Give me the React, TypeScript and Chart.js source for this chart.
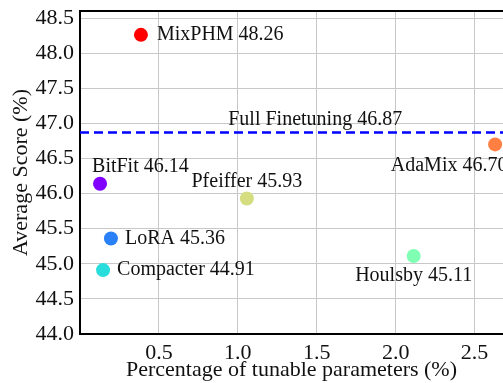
import React, { useEffect, useRef } from "react";
import { Chart, registerables } from "chart.js";

Chart.register(...registerables);

const methods = ["BitFit", "LoRA", "Compacter", "Houlsby", "Pfeiffer", "AdaMix", "MixPHM"];
const tunableParams = [0.127, 0.196, 0.146, 2.114, 1.057, 2.63, 0.386];
const avgScores = [46.14, 45.36, 44.91, 45.11, 45.93, 46.70, 48.26];
const pointColors = ["#8000ff", "#2a80f6", "#2adddd", "#80ffb4", "#d4dd80", "#ff8042", "#ff0000"];
const fullFinetuningLabel = "Full Finetuning";
const fullFinetuningScore = 46.87;

// label placement: [dx, dy, align]
const labelOffsets: [number, number, CanvasTextAlign][] = [
  [-8, -17, "left"],
  [14, 0, "left"],
  [14, 0, "left"],
  [0, 20, "center"],
  [0, -17, "center"],
  [-46, 21, "center"],
  [16, 0, "left"],
];

const FONT = "'Liberation Serif', 'Times New Roman', serif";

const annotPlugin = {
  id: "annot",
  afterDatasetsDraw(chart: any) {
    const { ctx, chartArea, scales } = chart;
    const xs = scales.x;
    const ys = scales.y;
    ctx.save();
    // top border
    ctx.strokeStyle = "#000";
    ctx.lineWidth = 2;
    ctx.beginPath();
    ctx.moveTo(chartArea.left - 1, chartArea.top);
    ctx.lineTo(chartArea.right + 2, chartArea.top);
    ctx.stroke();
    // dashed line
    const yl = ys.getPixelForValue(fullFinetuningScore);
    ctx.strokeStyle = "#0000ff";
    ctx.lineWidth = 2.5;
    ctx.setLineDash([9, 5]);
    ctx.beginPath();
    ctx.moveTo(chartArea.left, yl);
    ctx.lineTo(chartArea.right, yl);
    ctx.stroke();
    ctx.setLineDash([]);
    ctx.fillStyle = "#111";
    ctx.font = `20px ${FONT}`;
    ctx.textBaseline = "middle";
    ctx.textAlign = "center";
    ctx.fillText(`${fullFinetuningLabel} ${fullFinetuningScore.toFixed(2)}`, xs.getPixelForValue(1.49), yl - 13);
    // point labels
    methods.forEach((m, i) => {
      const px = xs.getPixelForValue(tunableParams[i]);
      const py = ys.getPixelForValue(avgScores[i]);
      const [dx, dy, al] = labelOffsets[i];
      ctx.textAlign = al;
      ctx.fillText(`${m} ${avgScores[i].toFixed(2)}`, px + dx, py + dy);
    });
    ctx.restore();
  },
};

export default function App() {
  const ref = useRef<HTMLCanvasElement>(null);
  useEffect(() => {
    document.body.style.margin = "0";
    const chart = new Chart(ref.current!, {
      type: "scatter",
      data: {
        datasets: [
          {
            data: tunableParams.map((x, i) => ({ x, y: avgScores[i] })),
            backgroundColor: pointColors,
            borderColor: pointColors,
            borderWidth: 0,
            pointRadius: 7,
          },
        ],
      },
      options: {
        animation: false,
        responsive: false,
        layout: { autoPadding: false, padding: { top: 11, right: 0, left: 0, bottom: 0 } },
        plugins: { legend: { display: false }, tooltip: { enabled: false } },
        scales: {
          x: {
            type: "linear",
            min: 0,
            max: 2.68,
            afterFit: (s: any) => { s.height = 49; s.paddingLeft = 0; s.paddingRight = 0; },
            afterBuildTicks: (s: any) => { s.ticks = s.ticks.filter((t: any) => t.value > 0.01 && t.value <= 2.51); },
            grid: { color: "#c8c8c8", lineWidth: 1, drawTicks: false },
            border: { display: true, color: "#000", width: 2 },
            ticks: {
              stepSize: 0.5,
              includeBounds: false,
              color: "#111",
              padding: 6,
              maxRotation: 0,
              font: { family: FONT, size: 22 },
              callback: (v: any) => Number(v).toFixed(1),
            },
            title: {
              display: true,
              text: "Percentage of tunable parameters (%)",
              color: "#111",
              font: { family: FONT, size: 22 },
              padding: { top: 0, bottom: 0 },
            },
          },
          y: {
            min: 44.0,
            max: 48.6,
            afterFit: (s: any) => { s.width = 80; s.paddingTop = 0; s.paddingBottom = 0; },
            grid: { color: "#c8c8c8", lineWidth: 1, drawTicks: false },
            border: { display: true, color: "#000", width: 2 },
            ticks: {
              stepSize: 0.5,
              includeBounds: false,
              color: "#111",
              padding: 6,
              font: { family: FONT, size: 22 },
              callback: (v: any) => Number(v).toFixed(1),
            },
            title: {
              display: true,
              text: "Average Score (%)",
              color: "#111",
              font: { family: FONT, size: 22 },
              padding: { top: 8, bottom: 0 },
            },
          },
        },
      },
      plugins: [annotPlugin],
    } as any);
    return () => chart.destroy();
  }, []);
  return (
    <div style={{ width: 503, height: 383 }}>
      <canvas ref={ref} width={503} height={383} />
    </div>
  );
}
